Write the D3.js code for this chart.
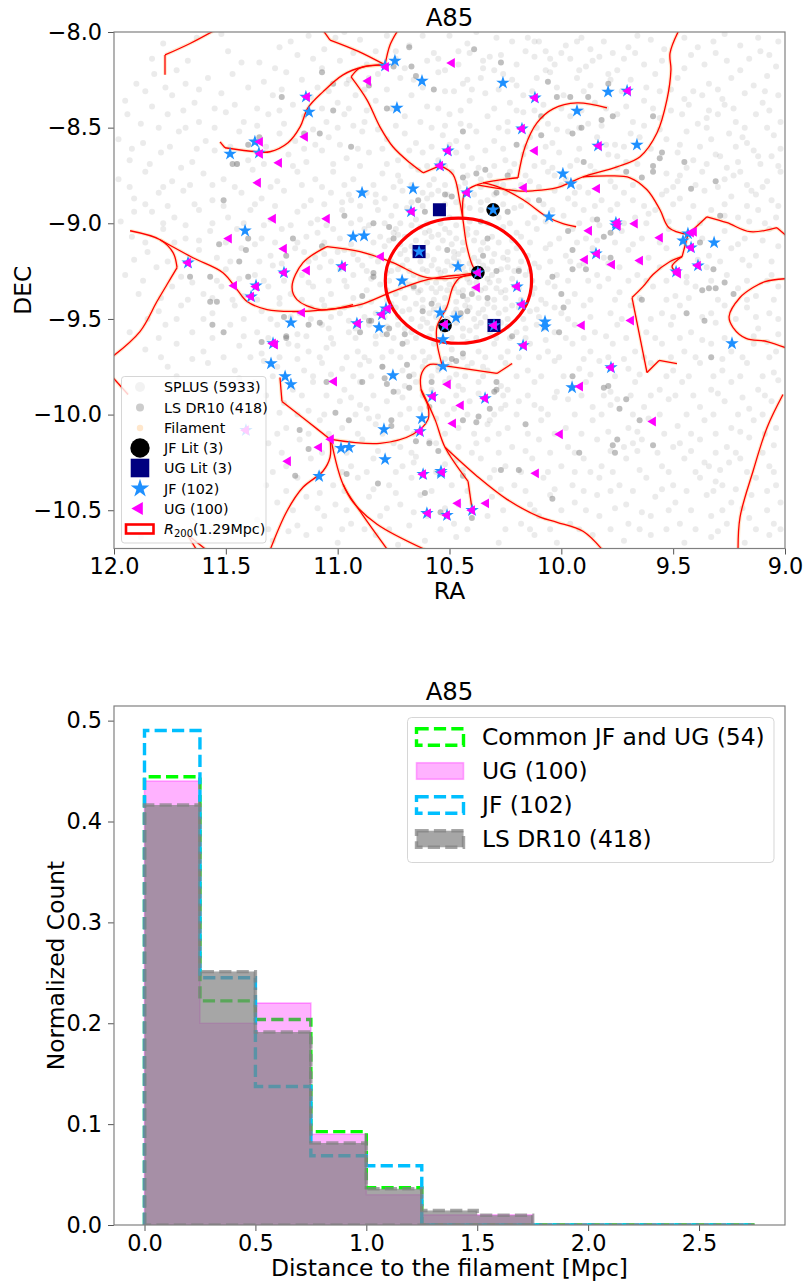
<!DOCTYPE html>
<html>
<head>
<meta charset="utf-8">
<script src="https://d3js.org/d3.v7.min.js"></script>
<style>
body { margin: 0; background: #fff; }
text { font-family: "DejaVu Sans", sans-serif; fill: #000; }
</style>
</head>
<body>
<div id="chart-area"></div>
<script>
//top panel data, [RA, DEC]
var splus = [
[11.94,-8.43],[11.78,-8.06],[11.63,-8.03],[11.26,-8.08],[11.13,-8.02],[11.01,-8.03],[10.9,-8.04],[10.68,-8.07],[10.57,-8.11],[10.5,-8.02],[10.42,-8.06],[10.32,-8.13],[10.22,-8.05],[10.15,-8.03],[10.07,-8.1],[9.98,-8.07],[9.91,-8.03],[9.81,-8.05],[9.77,-8.11],[9.66,-8.02],[9.6,-8.04],[9.45,-8.03],[9.32,-8.05],[9.2,-8.07],[9.07,-8.12],[9.12,-8.03],[10.62,-8.02],[10.78,-8.02],
[11.83,-8.14],[11.67,-8.15],[11.49,-8.1],[11.35,-8.16],[11.18,-8.12],[11.11,-8.14],[10.93,-8.11],[10.87,-8.17],[10.6,-8.15],[10.46,-8.17],[10.35,-8.19],[10.27,-8.12],[10.2,-8.17],[10.12,-8.13],[10.03,-8.17],[9.96,-8.14],[9.89,-8.18],[9.83,-8.13],[9.72,-8.14],[9.63,-8.17],[9.42,-8.12],[9.36,-8.17],[9.26,-8.15],[9.16,-8.14],[9.04,-8.18],
[11.9,-8.27],[11.82,-8.22],[11.68,-8.27],[11.58,-8.24],[11.47,-8.22],[11.33,-8.26],[11.23,-8.21],[11.16,-8.25],[11.09,-8.29],[10.96,-8.27],[10.82,-8.22],[10.72,-8.24],[10.55,-8.21],[10.44,-8.27],[10.36,-8.24],[10.26,-8.22],[10.2,-8.28],[10.11,-8.24],[10.05,-8.21],[9.93,-8.24],[9.87,-8.28],[9.79,-8.22],[9.69,-8.25],[9.58,-8.22],[9.48,-8.24],[9.34,-8.27],[9.24,-8.24],[9.14,-8.28],[9.08,-8.23],
[11.95,-8.36],[11.74,-8.33],[11.64,-8.37],[11.52,-8.32],[11.46,-8.38],[11.29,-8.33],[11.2,-8.38],[11.12,-8.34],[11.0,-8.37],[10.92,-8.33],[10.83,-8.36],[10.67,-8.33],[10.6,-8.39],[10.52,-8.31],[10.41,-8.36],[10.34,-8.32],[10.23,-8.37],[10.17,-8.33],[10.08,-8.38],[9.99,-8.33],[9.85,-8.37],[9.73,-8.31],[9.63,-8.36],[9.56,-8.31],[9.43,-8.38],[9.37,-8.33],[9.27,-8.38],[9.18,-8.32],[9.1,-8.37],[9.03,-8.33],
[11.88,-8.48],[11.76,-8.43],[11.62,-8.47],[11.5,-8.42],[11.42,-8.47],[11.31,-8.43],[11.24,-8.48],[11.15,-8.44],[11.05,-8.47],[10.97,-8.43],[10.88,-8.47],[10.7,-8.44],[10.63,-8.47],[10.5,-8.43],[10.45,-8.48],[10.33,-8.44],[10.24,-8.47],[10.17,-8.42],[10.06,-8.48],[9.96,-8.44],[9.88,-8.48],[9.75,-8.43],[9.68,-8.47],[9.46,-8.43],[9.39,-8.48],[9.3,-8.43],[9.22,-8.47],[9.13,-8.43],[9.02,-8.47],
[11.98,-8.56],[11.87,-8.58],[11.71,-8.52],[11.59,-8.57],[11.44,-8.52],[11.26,-8.53],[11.19,-8.57],[11.04,-8.55],[10.99,-8.59],[10.89,-8.52],[10.78,-8.56],[10.7,-8.53],[10.65,-8.58],[10.53,-8.54],[10.47,-8.57],[10.38,-8.52],[10.3,-8.57],[10.24,-8.52],[10.14,-8.55],[10.04,-8.58],[9.97,-8.52],[9.84,-8.55],[9.76,-8.59],[9.69,-8.53],[9.53,-8.56],[9.44,-8.52],[9.33,-8.56],[9.25,-8.53],[9.17,-8.58],[9.05,-8.54],
[11.93,-8.67],[11.79,-8.63],[11.65,-8.68],[11.55,-8.62],[11.4,-8.67],[11.22,-8.64],[11.14,-8.68],[11.07,-8.62],[10.96,-8.66],[10.86,-8.63],[10.73,-8.67],[10.62,-8.63],[10.55,-8.67],[10.47,-8.63],[10.4,-8.66],[10.34,-8.62],[10.25,-8.67],[10.17,-8.64],[10.08,-8.68],[10.01,-8.63],[9.93,-8.67],[9.79,-8.64],[9.71,-8.68],[9.48,-8.63],[9.41,-8.67],[9.31,-8.64],[9.21,-8.68],[9.14,-8.62],[9.06,-8.65],
[11.98,-8.77],[11.86,-8.73],[11.74,-8.78],[11.6,-8.74],[11.51,-8.77],[11.38,-8.72],[11.27,-8.78],[11.18,-8.73],[11.1,-8.77],[11.02,-8.73],[10.93,-8.77],[10.8,-8.74],[10.72,-8.78],[10.64,-8.72],[10.57,-8.77],[10.49,-8.73],[10.43,-8.79],[10.32,-8.75],[10.29,-8.79],[10.23,-8.73],[10.14,-8.78],[10.06,-8.73],[9.98,-8.77],[9.85,-8.73],[9.78,-8.78],[9.53,-8.74],[9.48,-8.78],[9.37,-8.73],[9.27,-8.77],[9.2,-8.73],[9.08,-8.78],[9.02,-8.73],
[11.91,-8.87],[11.8,-8.84],[11.69,-8.83],[11.56,-8.88],[11.43,-8.84],[11.34,-8.87],[11.24,-8.83],[11.12,-8.88],[11.03,-8.84],[10.94,-8.88],[10.87,-8.84],[10.79,-8.87],[10.71,-8.83],[10.6,-8.87],[10.55,-8.83],[10.47,-8.89],[10.39,-8.85],[10.33,-8.88],[10.21,-8.83],[10.15,-8.88],[10.03,-8.83],[9.97,-8.87],[9.88,-8.84],[9.82,-8.88],[9.72,-8.84],[9.68,-8.88],[9.53,-8.83],[9.47,-8.87],[9.36,-8.83],[9.24,-8.86],[9.15,-8.83],[9.06,-8.88],
[11.97,-8.99],[11.83,-8.94],[11.73,-8.97],[11.62,-8.93],[11.49,-8.97],[11.39,-8.93],[11.3,-8.98],[11.18,-8.94],[11.09,-8.98],[10.98,-8.93],[10.9,-8.98],[10.82,-8.93],[10.76,-8.96],[10.69,-8.92],[10.65,-8.98],[10.56,-8.93],[10.5,-8.97],[10.41,-8.92],[10.36,-8.93],[10.28,-8.97],[10.21,-8.92],[10.12,-8.97],[10.04,-8.93],[9.99,-8.96],[9.9,-8.93],[9.86,-8.98],[9.78,-8.93],[9.67,-8.97],[9.58,-8.93],[9.43,-8.97],[9.33,-8.93],[9.21,-8.97],[9.12,-8.93],[9.04,-8.97],
[11.92,-9.07],[11.78,-9.03],[11.68,-9.08],[11.57,-9.04],[11.45,-9.03],[11.34,-9.08],[11.25,-9.03],[11.14,-9.07],[11.02,-9.03],[10.99,-9.08],[10.88,-9.03],[10.81,-9.07],[10.74,-9.03],[10.7,-9.07],[10.63,-9.02],[10.58,-9.07],[10.52,-9.03],[10.47,-9.08],[10.42,-9.03],[10.31,-9.07],[10.26,-9.02],[10.18,-9.07],[10.11,-9.03],[10.01,-9.08],[9.95,-9.03],[9.89,-9.08],[9.73,-9.04],[9.64,-9.08],[9.52,-9.03],[9.37,-9.08],[9.27,-9.04],[9.18,-9.08],[9.07,-9.03],
[11.85,-9.15],[11.62,-9.14],[11.54,-9.18],[11.43,-9.13],[11.3,-9.17],[11.19,-9.13],[11.1,-9.18],[10.97,-9.14],[10.85,-9.17],[10.79,-9.12],[10.72,-9.16],[10.67,-9.12],[10.6,-9.17],[10.55,-9.13],[10.48,-9.18],[10.44,-9.14],[10.39,-9.18],[10.33,-9.13],[10.26,-9.18],[10.2,-9.13],[10.15,-9.17],[10.07,-9.13],[9.98,-9.17],[9.86,-9.13],[9.81,-9.18],[9.7,-9.14],[9.61,-9.18],[9.53,-9.13],[9.34,-9.17],[9.24,-9.13],[9.13,-9.17],[9.03,-9.12],
[11.95,-9.27],[11.81,-9.23],[11.7,-9.28],[11.5,-9.24],[11.37,-9.27],[11.29,-9.22],[11.16,-9.27],[11.08,-9.23],[10.93,-9.27],[10.89,-9.22],[10.78,-9.26],[10.71,-9.22],[10.66,-9.27],[10.58,-9.22],[10.54,-9.26],[10.49,-9.22],[10.43,-9.26],[10.35,-9.22],[10.31,-9.27],[10.24,-9.23],[10.16,-9.27],[10.1,-9.23],[10.02,-9.27],[9.92,-9.22],[9.84,-9.27],[9.74,-9.23],[9.66,-9.27],[9.56,-9.23],[9.44,-9.28],[9.35,-9.23],[9.26,-9.27],[9.16,-9.22],[9.06,-9.27],
[11.89,-9.37],[11.74,-9.33],[11.6,-9.37],[11.52,-9.33],[11.42,-9.38],[11.31,-9.33],[11.21,-9.37],[11.11,-9.33],[11.03,-9.37],[10.96,-9.33],[10.87,-9.35],[10.81,-9.32],[10.74,-9.37],[10.68,-9.32],[10.64,-9.36],[10.6,-9.31],[10.56,-9.36],[10.5,-9.32],[10.46,-9.36],[10.41,-9.31],[10.36,-9.35],[10.32,-9.31],[10.27,-9.36],[10.21,-9.33],[10.13,-9.37],[10.03,-9.33],[9.94,-9.37],[9.83,-9.33],[9.74,-9.36],[9.59,-9.33],[9.49,-9.38],[9.4,-9.33],[9.21,-9.34],[9.13,-9.38],[9.03,-9.33],
[11.8,-9.46],[11.7,-9.43],[11.56,-9.47],[11.46,-9.43],[11.34,-9.46],[11.26,-9.42],[11.17,-9.47],[11.06,-9.43],[10.99,-9.47],[10.9,-9.43],[10.83,-9.47],[10.76,-9.42],[10.71,-9.46],[10.65,-9.42],[10.59,-9.47],[10.55,-9.43],[10.48,-9.47],[10.43,-9.43],[10.37,-9.47],[10.33,-9.42],[10.28,-9.47],[10.22,-9.43],[10.14,-9.46],[10.07,-9.42],[10.0,-9.47],[9.9,-9.43],[9.78,-9.47],[9.69,-9.43],[9.55,-9.47],[9.47,-9.43],[9.33,-9.47],[9.27,-9.43],[9.17,-9.44],[9.07,-9.47],
[11.93,-9.57],[11.77,-9.53],[11.65,-9.57],[11.48,-9.53],[11.36,-9.57],[11.27,-9.53],[11.18,-9.58],[11.07,-9.53],[10.95,-9.57],[10.86,-9.53],[10.8,-9.58],[10.73,-9.53],[10.67,-9.57],[10.6,-9.52],[10.53,-9.56],[10.47,-9.52],[10.41,-9.56],[10.36,-9.52],[10.32,-9.57],[10.27,-9.52],[10.2,-9.57],[10.11,-9.53],[10.03,-9.57],[9.94,-9.53],[9.85,-9.57],[9.75,-9.53],[9.62,-9.57],[9.51,-9.53],[9.42,-9.57],[9.31,-9.52],[9.12,-9.55],[9.03,-9.58],
[11.86,-9.66],[11.72,-9.63],[11.6,-9.67],[11.44,-9.64],[11.34,-9.68],[11.22,-9.63],[11.13,-9.67],[11.02,-9.63],[10.91,-9.67],[10.83,-9.63],[10.76,-9.67],[10.69,-9.62],[10.62,-9.67],[10.57,-9.63],[10.49,-9.66],[10.42,-9.62],[10.37,-9.67],[10.3,-9.63],[10.24,-9.67],[10.14,-9.63],[10.06,-9.67],[9.95,-9.63],[9.87,-9.67],[9.77,-9.63],[9.67,-9.67],[9.55,-9.63],[9.45,-9.67],[9.33,-9.63],[9.24,-9.67],[9.14,-9.63],[9.04,-9.67],
[11.76,-9.75],[11.58,-9.73],[11.46,-9.77],[11.33,-9.72],[11.15,-9.77],[11.07,-9.73],[10.98,-9.76],[10.86,-9.72],[10.71,-9.77],[10.61,-9.72],[10.55,-9.77],[10.47,-9.79],[10.4,-9.73],[10.33,-9.77],[10.25,-9.73],[10.15,-9.77],[10.03,-9.72],[9.92,-9.76],[9.83,-9.72],[9.7,-9.76],[9.6,-9.73],[9.5,-9.77],[9.38,-9.73],[9.28,-9.77],[9.17,-9.73],[9.05,-9.78],
[11.66,-9.84],[11.5,-9.87],[11.37,-9.83],[11.2,-9.87],[11.11,-9.83],[10.97,-9.87],[10.9,-9.83],[10.73,-9.88],[10.65,-9.83],[10.58,-9.87],[10.52,-9.83],[10.44,-9.87],[10.37,-9.83],[10.24,-9.87],[10.12,-9.83],[10.02,-9.88],[9.89,-9.83],[9.78,-9.88],[9.67,-9.83],[9.56,-9.87],[9.46,-9.83],[9.33,-9.87],[9.24,-9.83],[9.12,-9.87],[9.03,-9.82],
[11.24,-9.94],[11.13,-9.98],[10.99,-9.93],[10.87,-9.97],[10.78,-9.93],[10.68,-9.97],[10.53,-9.93],[10.48,-9.97],[10.41,-9.93],[10.27,-9.97],[10.19,-9.93],[10.09,-9.97],[9.97,-9.92],[9.86,-9.96],[9.75,-9.92],[9.63,-9.96],[9.52,-9.92],[9.38,-9.96],[9.27,-9.93],[9.16,-9.97],[9.06,-9.93],
[11.23,-10.07],[11.08,-10.03],[10.98,-10.07],[10.86,-10.02],[10.69,-10.07],[10.56,-10.02],[10.46,-10.07],[10.32,-10.03],[10.24,-10.07],[10.09,-10.03],[9.98,-10.07],[9.86,-10.03],[9.7,-10.07],[9.61,-10.02],[9.48,-10.06],[9.36,-10.03],[9.24,-10.07],[9.14,-10.03],[9.04,-10.07],
[11.31,-10.15],[11.17,-10.13],[11.02,-10.17],[10.89,-10.13],[10.72,-10.17],[10.59,-10.14],[10.46,-10.17],[10.33,-10.13],[10.22,-10.17],[10.1,-10.13],[9.97,-10.17],[9.84,-10.13],[9.72,-10.17],[9.64,-10.13],[9.5,-10.17],[9.38,-10.13],[9.26,-10.17],[9.16,-10.12],[9.05,-10.16],
[11.23,-10.27],[11.12,-10.23],[10.94,-10.27],[10.84,-10.23],[10.71,-10.27],[10.65,-10.22],[10.52,-10.26],[10.36,-10.23],[10.25,-10.27],[10.13,-10.23],[10.0,-10.27],[9.9,-10.23],[9.82,-10.27],[9.71,-10.23],[9.55,-10.27],[9.45,-10.23],[9.34,-10.27],[9.2,-10.23],[9.07,-10.27],
[11.32,-10.37],[11.18,-10.33],[11.02,-10.37],[10.91,-10.33],[10.77,-10.37],[10.67,-10.33],[10.49,-10.37],[10.32,-10.33],[10.21,-10.37],[10.08,-10.33],[9.95,-10.37],[9.83,-10.33],[9.74,-10.37],[9.62,-10.33],[9.5,-10.37],[9.38,-10.33],[9.28,-10.37],[9.13,-10.33],[9.04,-10.37],
[11.27,-10.46],[11.14,-10.43],[11.01,-10.47],[10.86,-10.43],[10.72,-10.47],[10.63,-10.42],[10.46,-10.47],[10.31,-10.43],[10.14,-10.47],[10.05,-10.42],[9.94,-10.46],[9.84,-10.42],[9.71,-10.47],[9.58,-10.43],[9.49,-10.46],[9.35,-10.42],[9.24,-10.46],[9.15,-10.42],[9.02,-10.46],
[11.36,-10.55],[11.18,-10.58],[11.06,-10.53],[10.94,-10.57],[10.81,-10.53],[10.68,-10.58],[10.6,-10.53],[10.48,-10.57],[10.33,-10.53],[10.18,-10.57],[10.1,-10.53],[9.96,-10.57],[9.83,-10.53],[9.7,-10.57],[9.6,-10.53],[9.47,-10.57],[9.33,-10.53],[9.26,-10.57],[9.16,-10.54],[9.05,-10.57],
[11.88,-10.64],[11.29,-10.66],[11.14,-10.63],[11.0,-10.67],[10.83,-10.63],[10.73,-10.68],[10.61,-10.66],[10.47,-10.64],[10.28,-10.67],[10.12,-10.63],[10.02,-10.67],[9.86,-10.63],[9.72,-10.66],[9.6,-10.63],[9.45,-10.67],[9.33,-10.64],[9.18,-10.67],[9.07,-10.63]
];
//second pass over the same field, the dots that sit between the first ones
var splusFill = [
[11.52,-8.01],[11.21,-8.05],[11.06,-8.09],[10.97,-8.0],[10.83,-8.1],[10.74,-8.1],[10.46,-8.1],[10.38,-8.0],[10.29,-8.03],[10.1,-8.05],[10.0,-8.11],[9.87,-8.09],[9.7,-8.08],[9.54,-8.09],[9.39,-8.08],[9.27,-8.01],[9.03,-8.05],
[11.72,-8.2],[11.43,-8.16],[11.28,-8.19],[11.07,-8.19],[10.99,-8.15],[10.7,-8.19],[10.52,-8.2],[10.41,-8.11],[10.3,-8.2],[10.16,-8.1],[10.07,-8.2],[9.92,-8.2],[9.75,-8.2],[9.67,-8.11],[9.55,-8.15],[9.45,-8.19],[9.31,-8.11],[9.2,-8.2],[9.11,-8.1],
[11.86,-8.31],[11.77,-8.29],[11.62,-8.3],[11.4,-8.29],[11.25,-8.3],[11.04,-8.31],[10.88,-8.3],[10.78,-8.3],[10.62,-8.29],[10.48,-8.31],[10.4,-8.3],[10.28,-8.3],[10.13,-8.31],[10.02,-8.29],[9.9,-8.31],[9.79,-8.31],[9.62,-8.29],[9.51,-8.3],[9.41,-8.31],[9.3,-8.3],[9.09,-8.31],
[11.83,-8.39],[11.69,-8.41],[11.55,-8.4],[11.36,-8.4],[11.26,-8.41],[11.07,-8.4],[10.95,-8.4],[10.87,-8.41],[10.76,-8.4],[10.55,-8.4],[10.45,-8.41],[10.3,-8.4],[10.2,-8.41],[10.12,-8.41],[10.0,-8.4],[9.91,-8.41],[9.8,-8.4],[9.71,-8.39],[9.59,-8.4],[9.51,-8.41],[9.34,-8.41],[9.23,-8.4],[9.07,-8.41],
[11.8,-8.5],[11.68,-8.5],[11.55,-8.5],[11.36,-8.49],[11.11,-8.51],[11.0,-8.5],[10.93,-8.49],[10.82,-8.51],[10.74,-8.49],[10.58,-8.5],[10.52,-8.49],[10.41,-8.49],[10.28,-8.5],[10.11,-8.5],[10.02,-8.51],[9.92,-8.5],[9.82,-8.49],[9.63,-8.49],[9.56,-8.51],[9.35,-8.5],[9.18,-8.5],[9.08,-8.5],
[11.92,-8.61],[11.75,-8.6],[11.63,-8.61],[11.48,-8.6],[11.32,-8.6],[11.15,-8.61],[11.1,-8.59],[10.91,-8.61],[10.8,-8.61],[10.68,-8.62],[10.58,-8.6],[10.5,-8.59],[10.42,-8.6],[10.26,-8.61],[10.16,-8.6],[10.07,-8.6],[9.92,-8.61],[9.8,-8.59],[9.72,-8.6],[9.6,-8.61],[9.47,-8.59],[9.38,-8.6],[9.22,-8.6],[9.02,-8.61],
[11.84,-8.69],[11.7,-8.71],[11.45,-8.69],[11.33,-8.69],[11.2,-8.7],[11.02,-8.69],[10.9,-8.7],[10.78,-8.69],[10.67,-8.7],[10.6,-8.7],[10.52,-8.7],[10.44,-8.7],[10.37,-8.71],[10.3,-8.7],[10.21,-8.69],[10.12,-8.7],[10.04,-8.71],[9.96,-8.7],[9.87,-8.7],[9.75,-8.71],[9.66,-8.69],[9.44,-8.71],[9.35,-8.69],[9.26,-8.71],[9.11,-8.69],[9.03,-8.7],
[11.93,-8.81],[11.78,-8.81],[11.66,-8.8],[11.56,-8.8],[11.46,-8.81],[11.3,-8.81],[11.16,-8.8],[11.07,-8.81],[10.97,-8.8],[10.84,-8.8],[10.75,-8.81],[10.67,-8.8],[10.59,-8.8],[10.52,-8.8],[10.46,-8.81],[10.36,-8.81],[10.26,-8.8],[10.18,-8.8],[10.1,-8.81],[10.0,-8.8],[9.92,-8.81],[9.76,-8.81],[9.68,-8.8],[9.5,-8.81],[9.4,-8.8],[9.3,-8.81],[9.17,-8.8],[9.1,-8.81],
[11.86,-8.9],[11.76,-8.91],[11.64,-8.9],[11.51,-8.91],[11.37,-8.9],[11.28,-8.91],[11.15,-8.91],[11.06,-8.9],[10.98,-8.89],[10.9,-8.91],[10.83,-8.89],[10.74,-8.91],[10.67,-8.89],[10.62,-8.91],[10.52,-8.9],[10.44,-8.91],[10.36,-8.89],[10.26,-8.9],[10.18,-8.91],[10.08,-8.9],[9.94,-8.9],[9.85,-8.91],[9.75,-8.9],[9.63,-8.91],[9.5,-8.9],[9.41,-8.91],[9.27,-8.9],[9.17,-8.91],[9.03,-8.91],
[11.91,-8.94],[11.78,-9.0],[11.68,-9.01],[11.56,-9.0],[11.42,-9.0],[11.33,-9.01],[11.21,-9.01],[11.12,-9.0],[11.05,-9.01],[10.94,-9.0],[10.86,-9.01],[10.79,-9.0],[10.72,-9.0],[10.67,-9.01],[10.6,-9.0],[10.54,-9.0],[10.47,-9.01],[10.41,-8.99],[10.33,-9.0],[10.23,-9.0],[10.15,-9.0],[10.07,-8.99],[9.92,-9.0],[9.83,-9.01],[9.72,-9.0],[9.62,-9.0],[9.52,-8.99],[9.38,-9.0],[9.27,-8.96],[9.16,-8.99],[9.09,-9.0],
[11.86,-9.1],[11.73,-9.1],[11.62,-9.09],[11.5,-9.1],[11.37,-9.11],[11.28,-9.1],[11.18,-9.1],[11.06,-9.1],[10.94,-9.11],[10.84,-9.1],[10.77,-9.09],[10.72,-9.11],[10.65,-9.09],[10.6,-9.1],[10.53,-9.09],[10.49,-9.11],[10.44,-9.1],[10.39,-9.09],[10.35,-9.1],[10.28,-9.1],[10.22,-9.09],[10.14,-9.1],[10.05,-9.11],[9.93,-9.1],[9.84,-9.09],[9.76,-9.1],[9.68,-9.11],[9.56,-9.1],[9.45,-9.1],[9.32,-9.1],[9.21,-9.11],[9.1,-9.09],
[11.91,-9.19],[11.76,-9.2],[11.66,-9.19],[11.48,-9.2],[11.35,-9.2],[11.25,-9.21],[11.13,-9.2],[11.03,-9.2],[10.91,-9.19],[10.82,-9.2],[10.76,-9.2],[10.69,-9.19],[10.63,-9.2],[10.57,-9.19],[10.51,-9.2],[10.46,-9.2],[10.41,-9.21],[10.37,-9.2],[10.31,-9.2],[10.24,-9.19],[10.18,-9.2],[10.12,-9.21],[10.05,-9.2],[9.96,-9.2],[9.9,-9.21],[9.79,-9.21],[9.65,-9.2],[9.5,-9.2],[9.39,-9.19],[9.29,-9.2],[9.19,-9.19],[9.06,-9.2],
[11.87,-9.3],[11.65,-9.31],[11.54,-9.3],[11.44,-9.29],[11.33,-9.3],[11.24,-9.3],[11.13,-9.31],[11.04,-9.3],[10.97,-9.3],[10.85,-9.29],[10.77,-9.3],[10.7,-9.3],[10.63,-9.29],[10.56,-9.31],[10.52,-9.29],[10.47,-9.3],[10.42,-9.29],[10.38,-9.31],[10.33,-9.29],[10.28,-9.3],[10.22,-9.29],[10.13,-9.3],[10.06,-9.31],[9.97,-9.3],[9.88,-9.3],[9.79,-9.29],[9.7,-9.3],[9.62,-9.3],[9.53,-9.3],[9.44,-9.31],[9.33,-9.3],[9.17,-9.3],[9.08,-9.3],
[11.79,-9.39],[11.67,-9.4],[11.56,-9.39],[11.47,-9.4],[11.36,-9.4],[11.26,-9.39],[11.16,-9.4],[11.07,-9.4],[10.93,-9.39],[10.85,-9.41],[10.78,-9.4],[10.7,-9.39],[10.62,-9.4],[10.57,-9.4],[10.52,-9.39],[10.47,-9.41],[10.42,-9.4],[10.37,-9.39],[10.3,-9.4],[10.25,-9.39],[10.18,-9.4],[10.09,-9.4],[9.97,-9.41],[9.87,-9.4],[9.76,-9.4],[9.65,-9.39],[9.53,-9.4],[9.43,-9.39],[9.3,-9.4],[9.17,-9.4],[9.05,-9.4],
[11.85,-9.5],[11.72,-9.5],[11.6,-9.5],[11.42,-9.5],[11.3,-9.5],[11.21,-9.49],[11.12,-9.5],[11.03,-9.49],[10.95,-9.51],[10.88,-9.49],[10.79,-9.49],[10.73,-9.49],[10.67,-9.5],[10.62,-9.5],[10.56,-9.49],[10.51,-9.5],[10.45,-9.49],[10.39,-9.5],[10.34,-9.49],[10.24,-9.5],[10.17,-9.5],[10.1,-9.49],[9.97,-9.5],[9.87,-9.49],[9.73,-9.5],[9.6,-9.5],[9.5,-9.49],[9.37,-9.49],[9.22,-9.5],[9.13,-9.49],[9.03,-9.5],
[11.8,-9.6],[11.56,-9.6],[11.42,-9.59],[11.31,-9.6],[11.14,-9.59],[11.03,-9.6],[10.92,-9.6],[10.83,-9.59],[10.75,-9.6],[10.65,-9.6],[10.59,-9.59],[10.49,-9.6],[10.44,-9.59],[10.38,-9.6],[10.29,-9.6],[10.23,-9.6],[10.16,-9.6],[10.07,-9.61],[9.98,-9.6],[9.9,-9.6],[9.8,-9.59],[9.71,-9.6],[9.58,-9.6],[9.47,-9.6],[9.37,-9.61],[9.27,-9.6],[9.14,-9.59],[9.08,-9.62],
[11.79,-9.7],[11.65,-9.71],[11.51,-9.7],[11.39,-9.7],[11.26,-9.7],[11.18,-9.71],[11.08,-9.7],[10.96,-9.7],[10.88,-9.7],[10.8,-9.7],[10.72,-9.7],[10.66,-9.7],[10.59,-9.7],[10.52,-9.71],[10.44,-9.7],[10.34,-9.7],[10.27,-9.7],[10.19,-9.7],[10.1,-9.7],[10.01,-9.7],[9.9,-9.71],[9.79,-9.7],[9.72,-9.71],[9.63,-9.7],[9.51,-9.7],[9.4,-9.7],[9.28,-9.71],[9.19,-9.7],[9.07,-9.7],
[11.72,-9.8],[11.44,-9.81],[11.29,-9.8],[11.11,-9.8],[11.03,-9.79],[10.93,-9.8],[10.85,-9.8],[10.75,-9.8],[10.66,-9.79],[10.58,-9.8],[10.5,-9.81],[10.43,-9.8],[10.35,-9.8],[10.2,-9.8],[10.09,-9.8],[9.99,-9.8],[9.87,-9.79],[9.76,-9.8],[9.65,-9.79],[9.53,-9.8],[9.43,-9.8],[9.32,-9.8],[9.2,-9.8],[9.1,-9.8],
[11.32,-9.9],[11.16,-9.9],[11.05,-9.9],[10.94,-9.91],[10.84,-9.9],[10.71,-9.91],[10.62,-9.9],[10.47,-9.9],[10.37,-9.89],[10.26,-9.9],[10.15,-9.9],[10.03,-9.91],[9.91,-9.9],[9.81,-9.9],[9.69,-9.9],[9.6,-9.9],[9.49,-9.9],[9.41,-9.9],[9.3,-9.89],[9.19,-9.91],[9.09,-9.9],
[11.26,-9.99],[11.18,-10.0],[11.06,-10.0],[10.92,-10.0],[10.82,-10.01],[10.72,-10.0],[10.63,-9.97],[10.51,-10.0],[10.42,-10.0],[10.3,-10.0],[10.2,-10.0],[10.06,-10.0],[9.94,-10.0],[9.82,-10.0],[9.68,-10.0],[9.56,-10.0],[9.44,-10.0],[9.32,-10.0],[9.21,-10.0],[9.1,-10.0],
[11.27,-10.1],[11.13,-10.1],[11.04,-10.1],[10.91,-10.1],[10.8,-10.1],[10.66,-10.1],[10.52,-10.1],[10.39,-10.1],[10.28,-10.1],[10.15,-10.1],[10.03,-10.1],[9.91,-10.1],[9.79,-10.09],[9.66,-10.09],[9.54,-10.1],[9.42,-10.1],[9.31,-10.1],[9.2,-10.09],[9.09,-10.1],
[11.25,-10.2],[11.07,-10.2],[10.96,-10.2],[10.82,-10.19],[10.67,-10.2],[10.5,-10.2],[10.4,-10.2],[10.28,-10.2],[10.16,-10.19],[10.05,-10.2],[9.94,-10.2],[9.78,-10.19],[9.66,-10.19],[9.57,-10.2],[9.42,-10.19],[9.31,-10.2],[9.22,-10.2],[9.1,-10.2],
[11.29,-10.3],[11.08,-10.31],[10.98,-10.3],[10.87,-10.3],[10.74,-10.3],[10.56,-10.3],[10.44,-10.29],[10.3,-10.29],[10.18,-10.3],[10.06,-10.3],[9.94,-10.3],[9.87,-10.3],[9.77,-10.3],[9.65,-10.29],[9.52,-10.3],[9.4,-10.3],[9.29,-10.29],[9.17,-10.3],[9.05,-10.3],
[11.23,-10.4],[11.08,-10.41],[10.97,-10.4],[10.84,-10.39],[10.74,-10.41],[10.58,-10.4],[10.42,-10.4],[10.27,-10.39],[10.16,-10.4],[10.03,-10.39],[9.9,-10.4],[9.78,-10.4],[9.68,-10.4],[9.55,-10.39],[9.44,-10.4],[9.32,-10.4],[9.22,-10.39],[9.08,-10.4],
[11.2,-10.5],[11.09,-10.49],[10.96,-10.5],[10.78,-10.49],[10.66,-10.51],[10.52,-10.49],[10.4,-10.5],[10.26,-10.5],[10.12,-10.5],[10.0,-10.5],[9.89,-10.5],[9.76,-10.49],[9.64,-10.51],[9.52,-10.5],[9.42,-10.5],[9.28,-10.5],[9.19,-10.49],[9.08,-10.5],
[11.31,-10.6],[11.22,-10.61],[11.08,-10.6],[10.98,-10.6],[10.88,-10.6],[10.77,-10.6],[10.54,-10.6],[10.42,-10.6],[10.25,-10.6],[10.14,-10.6],[10.05,-10.6],[9.92,-10.6],[9.78,-10.6],[9.65,-10.6],[9.53,-10.6],[9.4,-10.6],[9.3,-10.61],[9.13,-10.6],[9.02,-10.6]
];
//tight clumps, mostly around the cluster centre
var splusClumps = [
[10.75,-9.05],[10.73,-9.06],[10.7,-9.14],[10.66,-9.15],[10.61,-9.05],[10.59,-9.04],[10.55,-9.06],[10.5,-9.05],[10.48,-9.15],[10.46,-9.16],[10.42,-9.06],[10.38,-9.05],[10.36,-9.14],[10.3,-9.16],[10.24,-9.15],[10.2,-9.05],
[10.76,-9.25],[10.73,-9.24],[10.68,-9.25],[10.62,-9.24],[10.6,-9.25],[10.55,-9.24],[10.52,-9.25],[10.46,-9.24],[10.44,-9.23],[10.4,-9.24],[10.36,-9.25],[10.33,-9.24],[10.27,-9.24],[10.21,-9.25],[10.19,-9.24],[10.14,-9.25],
[10.78,-9.35],[10.72,-9.34],[10.66,-9.34],[10.63,-9.35],[10.58,-9.34],[10.54,-9.34],[10.51,-9.35],[10.48,-9.34],[10.44,-9.35],[10.39,-9.34],[10.34,-9.34],[10.29,-9.34],[10.25,-9.35],[10.19,-9.34],[10.12,-9.34],
[10.79,-9.45],[10.74,-9.44],[10.68,-9.45],[10.62,-9.44],[10.57,-9.45],[10.52,-9.44],[10.47,-9.45],[10.41,-9.44],[10.35,-9.45],[10.3,-9.44],[10.25,-9.45],[10.19,-9.44],[10.11,-9.45],[10.03,-9.44],
[10.78,-9.54],[10.7,-9.55],[10.63,-9.54],[10.58,-9.55],[10.51,-9.54],[10.44,-9.55],[10.38,-9.54],[10.3,-9.55],[10.24,-9.54],[10.16,-9.55],[10.08,-9.55],
[11.0,-9.15],[10.93,-9.16],[10.87,-9.25],[10.99,-9.24],[11.09,-9.05],[11.06,-9.16],[11.15,-9.15],[10.97,-9.44],[10.92,-9.55],[11.04,-9.55],[11.12,-9.44],
[10.62,-8.84],[10.58,-8.85],[10.51,-8.85],[10.42,-8.75],[10.36,-8.77],[10.3,-8.85],[10.25,-8.84],[10.16,-8.75],[10.03,-8.75],[9.94,-8.84],[9.87,-8.75],[10.73,-8.75],[10.83,-8.85],[10.95,-8.85],
[10.95,-8.25],[10.86,-8.24],[10.74,-8.14],[10.66,-8.25],[10.55,-8.14],[10.42,-8.25],[10.35,-8.15],[10.22,-8.25],[10.12,-8.05],[10.05,-8.14],[9.93,-8.05],[9.86,-8.15],[9.78,-8.25],
[10.55,-9.75],[10.5,-9.74],[10.42,-9.75],[10.35,-9.75],[10.27,-9.85],[10.46,-9.85],[10.62,-9.75],[10.7,-9.85],[10.8,-9.75],[10.9,-9.74],[11.05,-9.65],[11.18,-9.64],[11.27,-9.75],
[10.56,-10.15],[10.47,-10.24],[10.38,-10.15],[10.66,-10.25],[10.75,-10.15],[10.83,-10.05],[10.9,-9.95],[10.33,-10.05],[10.25,-9.95],[10.12,-9.95],[9.78,-9.95],[9.68,-10.15],[9.47,-10.15],[9.36,-10.25],[9.31,-10.35],[9.25,-10.25],
[9.61,-8.95],[9.55,-8.85],[9.47,-8.75],[9.29,-8.65],[9.23,-8.75],[9.13,-8.85],[9.12,-8.65],[9.19,-8.55],[9.35,-8.45],[9.28,-8.35],[9.45,-8.35],[9.56,-8.45],[9.65,-8.55],[9.75,-8.65]
];
var lsdr10 = [
[10.68,-8.08],[10.67,-8.18],[10.75,-8.18],[10.86,-8.28],[10.57,-8.30],[10.78,-8.40],[11.02,-8.27],[11.07,-8.21],[11.25,-8.34],[11.02,-8.41],[11.08,-8.53],[11.15,-8.53],[10.94,-8.60],[11.40,-8.59],[11.35,-8.55],[11.47,-8.69],[11.45,-8.69],[11.51,-8.88],[10.97,-8.96],[10.84,-9.00],[10.75,-9.08],[10.77,-9.02],[10.64,-8.88],[10.52,-8.85],[11.40,-9.08],[11.53,-9.11],[11.41,-9.14],[11.44,-9.20],[11.20,-9.08],[11.23,-9.17],[11.40,-9.28],[11.57,-9.28],[11.66,-9.28],[11.07,-9.12],[10.84,-9.26],[10.84,-9.28],[10.65,-8.23],[10.51,-9.14],
[10.39,-8.09],[10.27,-8.16],[10.06,-8.26],[10.02,-8.34],[9.96,-8.34],[9.88,-8.34],[9.79,-8.27],[9.77,-8.44],[9.59,-8.44],[9.82,-8.46],[9.91,-8.50],[9.95,-8.53],[10.09,-8.44],[10.09,-8.54],[10.20,-8.59],[10.44,-8.52],[9.55,-8.63],[9.56,-8.66],[9.45,-8.68],[9.90,-8.68],[9.59,-8.70],[9.59,-8.73],[9.71,-8.73],[9.64,-8.76],[9.31,-8.78],[9.42,-8.82],[10.44,-8.76],[10.38,-8.74],[10.34,-8.72],[10.24,-8.75],[10.29,-8.84],[10.10,-8.88],[10.24,-8.94],[9.97,-9.04],[9.84,-8.98],[9.78,-9.05],[9.81,-9.07],[9.29,-8.96],[9.38,-9.10],[9.95,-9.14],[9.78,-9.18],[9.95,-9.24],[9.89,-9.24],[9.32,-9.24],[10.04,-9.28],[10.19,-9.25],[10.29,-9.25],[10.33,-9.08],[9.27,-9.31],[10.49,-8.86],
[11.57,-9.41],[11.54,-9.41],[11.56,-9.53],[11.51,-9.57],[11.34,-9.62],[11.23,-9.59],[11.08,-9.52],[10.90,-9.57],[10.86,-9.51],[10.70,-9.58],[10.62,-9.46],[11.05,-9.83],[10.89,-9.83],[10.79,-9.81],[10.78,-9.84],[10.75,-9.88],[10.69,-9.74],[10.80,-9.75],[10.95,-10.03],[11.01,-9.99],[10.76,-10.03],[10.59,-9.96],[10.76,-10.06],[11.17,-10.08],[11.13,-10.18],[11.19,-10.32],[10.96,-10.31],[10.82,-10.36],[10.61,-10.41],[10.54,-10.51],[10.59,-10.15],
[10.44,-9.38],[10.33,-9.39],[10.40,-9.37],[9.99,-9.44],[10.00,-9.37],[10.01,-9.57],[10.22,-9.59],[9.64,-9.40],[9.44,-9.47],[9.36,-9.51],[9.37,-9.35],[9.34,-9.34],[9.31,-9.34],[9.23,-9.37],[10.44,-9.68],[10.49,-9.71],[10.47,-9.72],[10.29,-9.83],[10.29,-9.87],[10.32,-9.97],[10.37,-10.01],[10.38,-10.04],[10.44,-10.03],[10.16,-10.05],[9.95,-9.80],[9.79,-9.85],[9.81,-9.86],[9.71,-9.92],[9.74,-9.97],[9.65,-10.03],[9.59,-10.16],[9.75,-10.13],[9.77,-10.16],[9.76,-10.20],[9.92,-10.20],[10.27,-10.29],[10.19,-10.29],[10.04,-10.44],[10.40,-10.54],[9.33,-9.70],[10.42,-9.46],[10.45,-9.47],
[10.61,-8.94],[10.36,-8.99],[10.35,-9.17],[10.58,-9.42],[10.71,-9.63],[10.77,-9.55],[10.30,-9.88],[10.58,-9.83],[10.68,-9.80],[10.68,-9.86],[10.55,-10.19],[10.65,-10.14],[10.44,-10.32],[10.89,-9.38],[11.24,-9.49],[11.13,-9.53],[11.23,-9.60],[10.85,-9.51],[10.78,-9.58],[10.66,-9.33]
];
//each filament piece runs between two sharp corners or ends
var filaments = [
[[11.548,-7.99],[11.66,-8.06],[11.772,-8.12]],
[[11.772,-8.12],[11.772,-8.224]],
[[11.066,-7.99],[11.034,-8.042]],
[[11.034,-8.042],[10.91,-8.10],[10.788,-8.172]],
[[10.73,-7.99],[10.766,-8.068],[10.788,-8.172]],
[[10.788,-8.172],[10.887,-8.183],[10.976,-8.224],[11.066,-8.313],[11.133,-8.397],[11.168,-8.496],[11.222,-8.579],[11.303,-8.626],[11.361,-8.626],[11.504,-8.605]],
[[11.504,-8.605],[11.526,-8.574]],
[[10.788,-8.172],[10.9,-8.188],[10.94,-8.235]],
[[10.94,-8.235],[10.869,-8.355],[10.811,-8.496],[10.753,-8.6],[10.677,-8.684],[10.618,-8.736]],
[[10.618,-8.736],[10.542,-8.699]],
[[10.542,-8.699],[10.484,-8.746],[10.453,-8.892],[10.44,-8.981],[10.422,-9.122],[10.395,-9.226],[10.373,-9.258]],
[[10.44,-8.981],[10.431,-8.84],[10.377,-8.799],[10.194,-8.762]],
[[10.194,-8.762],[10.162,-8.6],[10.109,-8.475],[10.037,-8.402],[9.93,-8.371],[9.796,-8.397]],
[[10.377,-8.799],[10.198,-8.83],[10.127,-8.83],[10.019,-8.814],[9.903,-8.757],[9.751,-8.705],[9.648,-8.652],[9.572,-8.527],[9.528,-8.355],[9.51,-8.198],[9.514,-8.11],[9.474,-7.99]],
[[10.35,-8.788],[10.274,-8.814],[10.171,-8.877],[10.064,-8.966],[9.993,-9.002],[9.934,-9.018]],
[[9.903,-8.757],[9.782,-8.752],[9.693,-8.762],[9.617,-8.825],[9.559,-8.929],[9.519,-9.023],[9.434,-9.059]],
[[9.434,-9.059],[9.349,-8.966]],
[[9.349,-8.966],[9.259,-8.997],[9.156,-9.044],[9.036,-9.023]],
[[9.036,-9.023],[8.99,-9.07]],
[[9.434,-9.059],[9.46,-9.174]],
[[9.46,-9.174],[9.505,-9.226],[9.483,-9.258]],
[[9.46,-9.174],[9.514,-9.2],[9.59,-9.268],[9.635,-9.331],[9.684,-9.388]],
[[9.684,-9.388],[9.617,-9.78]],
[[9.617,-9.78],[9.563,-9.717]],
[[9.563,-9.717],[9.483,-9.733]],
[[8.99,-9.289],[9.089,-9.305],[9.143,-9.336],[9.201,-9.388],[9.25,-9.487],[9.232,-9.545],[9.174,-9.602],[9.08,-9.618],[8.99,-9.654]],
[[9.009,-9.895],[9.08,-10.067],[9.143,-10.296],[9.201,-10.536],[9.21,-10.71]],
[[11.928,-9.039],[11.794,-9.086],[11.736,-9.153],[11.718,-9.232]],
[[11.718,-9.232],[11.763,-9.32],[11.808,-9.409],[11.884,-9.566],[12.01,-9.7]],
[[11.794,-9.086],[11.647,-9.18],[11.513,-9.258],[11.45,-9.347],[11.405,-9.409],[11.316,-9.451],[11.2,-9.461],[11.048,-9.451],[10.9,-9.425],[10.766,-9.362],[10.632,-9.305],[10.556,-9.284],[10.44,-9.268],[10.373,-9.258]],
[[11.048,-9.122],[11.155,-9.206],[11.204,-9.331],[11.182,-9.399],[11.079,-9.451],[10.931,-9.425]],
[[11.048,-9.122],[10.9,-9.148],[10.753,-9.206],[10.618,-9.279],[10.511,-9.289],[10.373,-9.263]],
[[10.373,-9.263],[10.453,-9.284],[10.484,-9.331],[10.511,-9.435],[10.556,-9.54],[10.556,-9.623],[10.533,-9.743]],
[[10.533,-9.743],[10.587,-9.738],[10.623,-9.78],[10.627,-9.868],[10.596,-9.957],[10.596,-10.025],[10.663,-10.103],[10.811,-10.15],[11.03,-10.129]],
[[10.533,-9.743],[10.288,-9.785]],
[[10.288,-9.785],[10.22,-9.733]],
[[10.627,-9.868],[10.565,-10.025],[10.52,-10.171],[10.417,-10.349]],
[[10.417,-10.349],[10.399,-10.495]],
[[10.52,-10.171],[10.377,-10.322],[10.243,-10.443],[10.095,-10.536],[10.019,-10.563],[9.903,-10.61],[9.814,-10.71]],
[[11.258,-9.806],[11.249,-9.931]],
[[11.249,-9.931],[11.13,-10.04],[11.034,-10.129]],
[[11.034,-10.129],[11.034,-10.223],[11.066,-10.296],[11.155,-10.38],[11.227,-10.505],[11.303,-10.71]],
[[11.03,-10.129],[10.976,-10.364],[10.9,-10.505],[10.775,-10.71]],
[[10.976,-10.364],[10.931,-10.458],[10.824,-10.573],[10.601,-10.71]],
[[12.01,-9.8],[11.937,-9.895]],
[[11.674,-10.625],[11.584,-10.71]],
[[11.674,-10.625],[11.629,-10.71]]
];
var jfLit = [[10.305,-8.929],[10.373,-9.258],[10.52,-9.534]];
var ugLit = [[10.545,-8.929],[10.636,-9.148],[10.301,-9.534]];
var jf = [
[10.788,-8.177],[10.744,-8.151],[10.623,-8.256],[10.735,-8.397],[11.142,-8.339],[11.128,-8.418],[11.37,-8.574],[11.481,-8.637],[11.352,-8.632],[10.542,-8.699],[10.507,-8.621],[10.663,-8.819],[10.891,-8.84],[10.672,-8.939],[11.414,-9.039],[10.931,-9.07],[10.882,-9.065],[10.636,-9.148],[10.712,-9.3],[11.669,-9.206],[10.981,-9.226],[11.24,-9.258],[11.365,-9.326],
[10.261,-8.266],[10.118,-8.344],[9.791,-8.313],[9.706,-8.308],[9.93,-8.412],[10.176,-8.506],[9.836,-8.595],[9.662,-8.59],[9.993,-8.741],[9.957,-8.793],[10.422,-8.84],[10.305,-8.929],[10.055,-8.966],[9.756,-8.997],[9.756,-9.012],[9.845,-9.159],[9.434,-9.054],[9.456,-9.091],[9.42,-9.127],[9.317,-9.101],[9.389,-9.221],[9.487,-9.253],[10.462,-9.226],[10.373,-9.258],[10.198,-9.331],
[11.387,-9.383],[11.209,-9.519],[11.289,-9.628],[11.298,-9.733],[11.235,-9.801],[11.209,-9.842],[10.914,-9.524],[10.815,-9.545],[10.802,-9.477],[10.784,-9.446],[10.542,-9.467],[10.529,-9.607],[10.529,-9.748],[10.753,-9.795],[10.578,-9.905],[10.623,-10.02],[10.793,-10.077],[10.632,-10.088],[10.985,-10.176],[10.949,-10.171],[10.788,-10.234],[11.083,-10.322],[10.618,-10.312],[10.538,-10.296],[10.538,-10.307],[10.601,-10.516],[10.511,-10.526],[11.41,-10.082],
[10.471,-9.493],[10.176,-9.425],[10.073,-9.514],[10.073,-9.54],[10.301,-9.534],[10.171,-9.639],[9.778,-9.754],[9.952,-9.858],[10.341,-9.915],[10.399,-10.5],[9.237,-9.628],[10.52,-9.534]
];
var ug = [
[10.784,-8.183],[10.864,-8.256],[11.137,-8.339],[11.347,-8.574],[11.347,-8.637],[11.146,-8.548],[11.262,-8.684],[11.356,-8.788],[11.289,-8.976],[11.048,-8.976],[10.668,-8.939],[10.507,-8.621],[10.542,-8.699],[11.486,-9.08],[11.24,-9.133],[10.806,-9.174],[11.669,-9.206],[11.137,-9.247],[10.976,-9.226],[11.24,-9.258],[11.463,-9.326],[11.365,-9.331],
[10.489,-8.162],[10.118,-8.344],[9.702,-8.308],[10.176,-8.506],[10.118,-8.621],[9.832,-8.595],[10.167,-8.814],[9.84,-8.819],[10.422,-8.84],[9.751,-8.997],[9.747,-9.012],[9.671,-9.002],[9.876,-9.039],[9.559,-9.075],[9.407,-9.044],[9.42,-9.049],[9.42,-9.127],[9.894,-9.19],[9.84,-9.159],[9.773,-9.216],[9.648,-9.195],[9.389,-9.221],[9.483,-9.253],[9.478,-9.263],[10.373,-9.258],[10.377,-9.336],[10.198,-9.331],
[11.387,-9.383],[11.159,-9.467],[10.909,-9.524],[10.802,-9.477],[10.775,-9.446],[10.52,-9.529],[11.289,-9.628],[11.28,-9.634],[11.016,-9.827],[10.507,-9.842],[10.574,-9.905],[10.632,-10.088],[11.03,-10.129],[11.083,-10.171],[11.222,-10.244],[10.618,-10.312],[10.533,-10.302],[10.596,-10.516],[10.511,-10.526],[11.41,-10.082],
[10.176,-9.425],[10.301,-9.534],[9.908,-9.534],[9.688,-9.508],[10.167,-9.639],[9.778,-9.754],[9.916,-9.853],[10.341,-9.915],[10.449,-9.952],[10.484,-10.046],[9.59,-10.036],[10.006,-10.103],[10.113,-10.307],[10.462,-10.464],[10.336,-10.464],[10.399,-10.5]
];
var r200 = {ra: 10.46, dec: -9.30, radius: 0.327};
var raTicks = [12, 11.5, 11, 10.5, 10, 9.5, 9];
var decTicks = [-8, -8.5, -9, -9.5, -10, -10.5];
var topLegend = ["SPLUS (5933)", "LS DR10 (418)", "Filament", "JF Lit (3)", "UG Lit (3)", "JF (102)", "UG (100)"];

//bottom panel data
var binEdges = [0, 0.25, 0.5, 0.75, 1, 1.25, 1.5, 1.75, 2, 2.25, 2.5, 2.75];
var commonHist = [0.4444, 0.2222, 0.2037, 0.0926, 0.037, 0, 0, 0, 0, 0, 0];
var ugHist = [0.44, 0.20, 0.22, 0.09, 0.03, 0.01, 0.01, 0, 0, 0, 0];
var jfHist = [0.4902, 0.2451, 0.1373, 0.0686, 0.0588, 0, 0, 0, 0, 0, 0];
var lsHist = [0.4163, 0.2512, 0.1914, 0.0813, 0.0359, 0.0144, 0.0096, 0, 0, 0, 0];
var histTicksX = [0, 0.5, 1, 1.5, 2, 2.5];
var histTicksY = [0, 0.1, 0.2, 0.3, 0.4, 0.5];
var histLegend = ["Common JF and UG (54)", "UG (100)", "JF (102)", "LS DR10 (418)"];

//layout
var pageW = 804, pageH = 1281, fontTick = 22.4, fontLabel = 23.4, fontTitle = 24.4;
var left = 114, right = 785;
var top1 = 32, bottom1 = 548.5, top2 = 706, bottom2 = 1225;
var spineColor = "#808080", tickColor = "#555";

var svg = d3.select("#chart-area").append("svg")
    .attr("width", pageW).attr("height", pageH)
    .style("display", "block");

var defs = svg.append("defs");
defs.append("clipPath").attr("id", "clip1").append("rect")
    .attr("x", left).attr("y", top1).attr("width", right - left).attr("height", bottom1 - top1);
defs.append("clipPath").attr("id", "clip2").append("rect")
    .attr("x", left).attr("y", top2).attr("width", right - left).attr("height", bottom2 - top2);

//scales
var xRA = d3.scaleLinear().domain([12, 9]).range([left, right]);
var yDec = d3.scaleLinear().domain([-8, -10.7]).range([top1, bottom1]);
var xDist = d3.scaleLinear().domain([-0.1375, 2.8875]).range([left, right]);
var yNorm = d3.scaleLinear().domain([0, 0.5145]).range([bottom2, top2]);

//format with a real minus sign like matplotlib
var fmt1 = function(d) { return d3.format(".1f")(d).replace("-", "\u2212"); };

function drawAxes(xs, ys, xt, yt, yTop, yBottom, title, xLabel, yLabel, yLabelX, xLabelY, xFmt, xPad) {
    var gx = svg.append("g").attr("transform", "translate(0," + yBottom + ")")
        .call(d3.axisBottom(xs).tickValues(xt).tickSize(6).tickPadding(xPad).tickFormat(xFmt));
    var gy = svg.append("g").attr("transform", "translate(" + left + ",0)")
        .call(d3.axisLeft(ys).tickValues(yt).tickSize(6).tickPadding(6).tickFormat(fmt1));
    [gx, gy].forEach(function(g) {
        g.select(".domain").remove();
        g.selectAll("line").attr("stroke", tickColor).attr("stroke-width", 1);
        g.selectAll("text").attr("font-size", fontTick).attr("font-family", "DejaVu Sans");
    });
    svg.append("rect").attr("x", left).attr("y", yTop)
        .attr("width", right - left).attr("height", yBottom - yTop)
        .attr("fill", "none").attr("stroke", spineColor).attr("stroke-width", 1.2);
    svg.append("text").attr("x", (left + right) / 2).attr("y", yTop - 6)
        .attr("text-anchor", "middle").attr("font-size", fontTitle).text(title);
    svg.append("text").attr("x", (left + right) / 2).attr("y", xLabelY)
        .attr("text-anchor", "middle").attr("font-size", fontLabel).text(xLabel);
    svg.append("text").attr("transform", "translate(" + yLabelX + "," + (yTop + yBottom) / 2 + ") rotate(-90)")
        .attr("text-anchor", "middle").attr("font-size", fontLabel).text(yLabel);
}

//top panel marks
var plot1 = svg.append("g").attr("clip-path", "url(#clip1)");

plot1.selectAll(".splus").data(splus.concat(splusFill, splusClumps)).enter().append("circle")
    .attr("class", "splus")
    .attr("cx", function(d) { return xRA(d[0]); })
    .attr("cy", function(d) { return yDec(d[1]); })
    .attr("r", 3).attr("fill", "gray").attr("fill-opacity", 0.16);

plot1.selectAll(".ls").data(lsdr10).enter().append("circle")
    .attr("class", "ls")
    .attr("cx", function(d) { return xRA(d[0]); })
    .attr("cy", function(d) { return yDec(d[1]); })
    .attr("r", 3).attr("fill", "gray").attr("fill-opacity", 0.5);

//filament spines, halo first then the red line
var filLine = d3.line()
    .x(function(d) { return xRA(d[0]); })
    .y(function(d) { return yDec(d[1]); })
    .curve(d3.curveCatmullRom.alpha(0.5));

plot1.selectAll(".halo").data(filaments).enter().append("path")
    .attr("d", filLine).attr("fill", "none")
    .attr("stroke", "#ffc98f").attr("stroke-opacity", 0.45).attr("stroke-width", 3.6);
plot1.selectAll(".fil").data(filaments).enter().append("path")
    .attr("d", filLine).attr("fill", "none")
    .attr("stroke", "red").attr("stroke-width", 1.3);

//R200 ring, radius is in degrees so both scales apply
plot1.append("ellipse")
    .attr("cx", xRA(r200.ra)).attr("cy", yDec(r200.dec))
    .attr("rx", Math.abs(xRA(r200.radius) - xRA(0)))
    .attr("ry", Math.abs(yDec(r200.radius) - yDec(0)))
    .attr("fill", "none").attr("stroke", "red").attr("stroke-width", 3.2);

function placeAt(d) { return "translate(" + xRA(d[0]) + "," + yDec(d[1]) + ")"; }
var starPath = d3.symbol().type(d3.symbolStar);
var squarePath = d3.symbol().type(d3.symbolSquare);
var triPath = d3.symbol().type(d3.symbolTriangle);

plot1.selectAll(".jflit").data(jfLit).enter().append("circle")
    .attr("cx", function(d) { return xRA(d[0]); })
    .attr("cy", function(d) { return yDec(d[1]); })
    .attr("r", 6.8).attr("fill", "#000");
plot1.selectAll(".uglit").data(ugLit).enter().append("path")
    .attr("d", squarePath.size(170)).attr("transform", placeAt).attr("fill", "navy");
plot1.selectAll(".jf").data(jf).enter().append("path")
    .attr("d", starPath.size(56)).attr("transform", placeAt).attr("fill", "dodgerblue");
plot1.selectAll(".ug").data(ug).enter().append("path")
    .attr("d", triPath.size(42))
    .attr("transform", function(d) { return placeAt(d) + " rotate(-90)"; })
    .attr("fill", "magenta");

drawAxes(xRA, yDec, raTicks, decTicks, top1, bottom1, "A85", "RA", "DEC", 31, 598.5, fmt1, 4);

//top legend, the frame lets the points show through
var lg1 = svg.append("g");
lg1.append("rect").attr("x", 121.5).attr("y", 376.5).attr("width", 144.5).attr("height", 166.5).attr("rx", 3)
    .attr("fill", "#fff").attr("fill-opacity", 0.8).attr("stroke", "#ccc").attr("stroke-opacity", 0.8);
var rowY = [387, 407.5, 428, 448, 468, 488.5, 508.5, 529];
var markX = 140;
lg1.selectAll("text").data(topLegend).enter().append("text")
    .attr("x", 164).attr("y", function(d, i) { return rowY[i] + 5; })
    .attr("font-size", 14.3).text(function(d) { return d; });
lg1.append("text").attr("x", 164).attr("y", rowY[7] + 5).attr("font-size", 14.3)
    .html('<tspan font-style="italic">R</tspan><tspan font-size="10" dy="3">200</tspan><tspan dy="-3">(1.29Mpc)</tspan>');
lg1.append("circle").attr("cx", markX).attr("cy", rowY[0]).attr("r", 5).attr("fill", "gray").attr("fill-opacity", 0.1);
lg1.append("circle").attr("cx", markX).attr("cy", rowY[1]).attr("r", 4).attr("fill", "gray").attr("fill-opacity", 0.4);
lg1.append("circle").attr("cx", markX).attr("cy", rowY[2]).attr("r", 3.2).attr("fill", "#ffc98f").attr("fill-opacity", 0.45);
lg1.append("circle").attr("cx", markX).attr("cy", rowY[3]).attr("r", 9.7).attr("fill", "#000");
lg1.append("path").attr("d", squarePath.size(345)).attr("transform", "translate(" + markX + "," + rowY[4] + ")").attr("fill", "navy");
lg1.append("path").attr("d", starPath.size(108)).attr("transform", "translate(" + markX + "," + rowY[5] + ")").attr("fill", "dodgerblue");
lg1.append("path").attr("d", triPath.size(75)).attr("transform", "translate(" + (markX - 1) + "," + rowY[6] + ") rotate(-90)").attr("fill", "magenta");
lg1.append("rect").attr("x", 126).attr("y", rowY[7] - 4.5).attr("width", 27.5).attr("height", 9)
    .attr("fill", "none").attr("stroke", "red").attr("stroke-width", 2.6);

//bottom panel, histograms as step outlines
function stepPoints(values) {
    var pts = [[binEdges[0], 0]];
    values.forEach(function(v, i) {
        pts.push([binEdges[i], v]);
        pts.push([binEdges[i + 1], v]);
    });
    pts.push([binEdges[binEdges.length - 1], 0]);
    return pts;
}
var histLine = d3.line()
    .x(function(d) { return xDist(d[0]); })
    .y(function(d) { return yNorm(d[1]); });

var dash = "12.2 5.2";
var histSeries = [
    {values: commonHist, stroke: "lime", strokeOp: 1, sw: 3.4, dash: dash, fill: "none", fillOp: 0, closed: false},
    {values: ugHist, stroke: "magenta", strokeOp: 0.3, sw: 1.6, dash: null, fill: "magenta", fillOp: 0.3, closed: true},
    {values: jfHist, stroke: "deepskyblue", strokeOp: 1, sw: 3.4, dash: dash, fill: "none", fillOp: 0, closed: false},
    {values: lsHist, stroke: "gray", strokeOp: 0.7, sw: 3.4, dash: dash, fill: "gray", fillOp: 0.7, closed: true}
];
var plot2 = svg.append("g").attr("clip-path", "url(#clip2)");
plot2.selectAll(".hist").data(histSeries).enter().append("path")
    .attr("d", function(d) { return histLine(stepPoints(d.values)) + (d.closed ? "Z" : ""); })
    .attr("fill", function(d) { return d.fill; })
    .attr("fill-opacity", function(d) { return d.fillOp; })
    .attr("stroke", function(d) { return d.stroke; })
    .attr("stroke-opacity", function(d) { return d.strokeOp; })
    .attr("stroke-width", function(d) { return d.sw; })
    .attr("stroke-dasharray", function(d) { return d.dash; });

drawAxes(xDist, yNorm, histTicksX, histTicksY, top2, bottom2, "A85", "Distance to the filament [Mpc]", "Normalized Count", 64, 1275.5, d3.format(".1f"), 4);

//bottom legend
var lg2 = svg.append("g");
lg2.append("rect").attr("x", 407.5).attr("y", 717.5).attr("width", 366.5).attr("height", 145).attr("rx", 4)
    .attr("fill", "#fff").attr("fill-opacity", 0.8).attr("stroke", "#ccc").attr("stroke-opacity", 0.8);
var histRowY = [737, 771, 805, 839];
lg2.selectAll(".patch").data(histSeries).enter().append("rect")
    .attr("x", 416.5).attr("width", 47).attr("height", 16.5)
    .attr("y", function(d, i) { return histRowY[i] - 8.25; })
    .attr("fill", function(d) { return d.fill; })
    .attr("fill-opacity", function(d) { return d.fillOp; })
    .attr("stroke", function(d) { return d.stroke; })
    .attr("stroke-opacity", function(d) { return d.strokeOp; })
    .attr("stroke-width", function(d) { return d.sw; })
    .attr("stroke-dasharray", function(d) { return d.dash; });
lg2.selectAll("text").data(histLegend).enter().append("text")
    .attr("x", 482).attr("y", function(d, i) { return histRowY[i] + 8; })
    .attr("font-size", fontLabel).text(function(d) { return d; });
</script>
</body>
</html>
